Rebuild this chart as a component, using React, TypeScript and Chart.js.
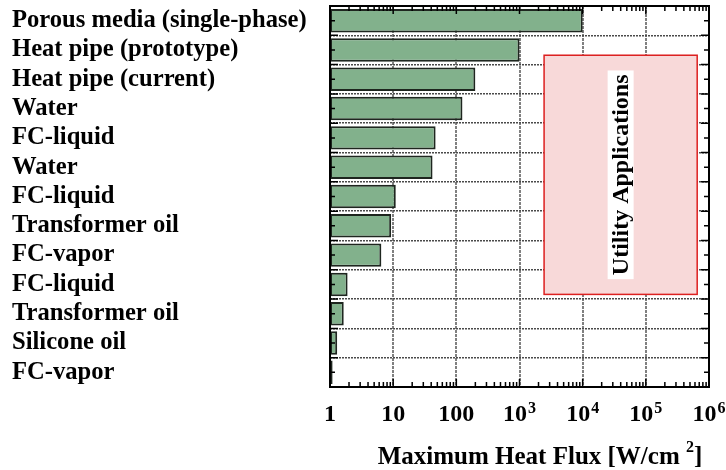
import React, { useEffect, useRef } from "react";
import { Chart, registerables } from "chart.js";

Chart.register(...registerables);

const categories = [
  "Porous media (single-phase)",
  "Heat pipe (prototype)",
  "Heat pipe (current)",
  "Water",
  "FC-liquid",
  "Water",
  "FC-liquid",
  "Transformer oil",
  "FC-vapor",
  "FC-liquid",
  "Transformer oil",
  "Silicone oil",
  "FC-vapor",
];
const heatFlux = [10000, 1000, 200, 125, 47, 42, 11, 9.3, 6.5, 1.9, 1.65, 1.3, 1.1];
const xTickValues = [1, 10, 100, 1e3, 1e4, 1e5, 1e6];
const xTickBase = ["1", "10", "100", "10", "10", "10", "10"];
const xTickExp = ["", "", "", "3", "4", "5", "6"];
const xTitleMain = "Maximum Heat Flux [W/cm ";
const xTitleSup = "2";
const xTitleEnd = "]";
const utilityXRange = [2450, 650000];
const utilityRowRange = [1.18, 9.34];
const utilityLabel = "Utility Applications";

const FONT = "'Liberation Serif', 'Times New Roman', serif";

const framePlugin = {
  id: "frame",
  beforeDatasetsDraw(chart: any) {
    const { ctx, scales } = chart;
    const x = scales.x;
    const y = scales.y;
    const x0 = x.getPixelForValue(utilityXRange[0]);
    const x1 = x.getPixelForValue(utilityXRange[1]);
    const y0 = y.getPixelForValue(utilityRowRange[0]);
    const y1 = y.getPixelForValue(utilityRowRange[1]);
    ctx.save();
    ctx.fillStyle = "#f8d9d9";
    ctx.fillRect(x0, y0, x1 - x0, y1 - y0);
    ctx.strokeStyle = "#dd2020";
    ctx.lineWidth = 1.5;
    ctx.strokeRect(x0, y0, x1 - x0, y1 - y0);
    const cx = (x0 + x1) / 2;
    const cy = (y0 + y1) / 2;
    ctx.translate(cx, cy);
    ctx.rotate(-Math.PI / 2);
    ctx.font = `bold 24px ${FONT}`;
    const w = ctx.measureText(utilityLabel).width;
    ctx.fillStyle = "#ffffff";
    ctx.fillRect(-w / 2 - 4, -13, w + 8, 26);
    ctx.fillStyle = "#000000";
    ctx.textAlign = "center";
    ctx.textBaseline = "middle";
    ctx.fillText(utilityLabel, 0, 1);
    ctx.restore();
  },
  afterDatasetsDraw(chart: any) {
    const { ctx, chartArea: a, scales } = chart;
    const x = scales.x;
    const y = scales.y;
    ctx.save();
    ctx.strokeStyle = "#000";
    ctx.lineWidth = 1.5;
    for (let d = 0; d < 6; d++) {
      for (let m = 1; m <= 9; m++) {
        const v = Math.pow(10, d) * m;
        const px = x.getPixelForValue(v);
        const len = m === 1 ? 8 : 5;
        ctx.beginPath();
        ctx.moveTo(px, a.bottom);
        ctx.lineTo(px, a.bottom - len);
        ctx.moveTo(px, a.top);
        ctx.lineTo(px, a.top + len);
        ctx.stroke();
      }
    }
    for (let i = 0; i < categories.length; i++) {
      const py = y.getPixelForValue(i);
      const pb = y.getPixelForValue(i + 0.5);
      ctx.beginPath();
      ctx.moveTo(a.left, py);
      ctx.lineTo(a.left + 5, py);
      ctx.moveTo(a.right, py);
      ctx.lineTo(a.right - 5, py);
      ctx.moveTo(a.left, pb);
      ctx.lineTo(a.left + 8, pb);
      ctx.moveTo(a.right, pb);
      ctx.lineTo(a.right - 8, pb);
      ctx.stroke();
    }
    ctx.lineWidth = 2;
    ctx.strokeRect(a.left, a.top, a.right - a.left, a.bottom - a.top);

    // x tick labels with superscripts
    ctx.fillStyle = "#000";
    ctx.textBaseline = "alphabetic";
    ctx.textAlign = "left";
    const baseFont = `bold 24px ${FONT}`;
    const supFont = `bold 16px ${FONT}`;
    const tickBaseline = a.bottom + 34;
    xTickValues.forEach((v, i) => {
      const px = x.getPixelForValue(v);
      ctx.font = baseFont;
      const wb = ctx.measureText(xTickBase[i]).width;
      ctx.font = supFont;
      const we = xTickExp[i] ? ctx.measureText(xTickExp[i]).width + 1 : 0;
      const start = px - (wb + we) / 2;
      ctx.font = baseFont;
      ctx.fillText(xTickBase[i], start, tickBaseline);
      if (xTickExp[i]) {
        ctx.font = supFont;
        ctx.fillText(xTickExp[i], start + wb + 1, tickBaseline - 8);
      }
    });

    // title
    const titleFont = `bold 25px ${FONT}`;
    ctx.font = titleFont;
    const w1 = ctx.measureText(xTitleMain).width;
    const w3 = ctx.measureText(xTitleEnd).width;
    ctx.font = supFont;
    const w2 = ctx.measureText(xTitleSup).width;
    const total = w1 + w2 + w3;
    const tStart = 540 - total / 2;
    const tBase = a.bottom + 77;
    ctx.font = titleFont;
    ctx.fillText(xTitleMain, tStart, tBase);
    ctx.font = supFont;
    ctx.fillText(xTitleSup, tStart + w1, tBase - 12);
    ctx.font = titleFont;
    ctx.fillText(xTitleEnd, tStart + w1 + w2, tBase);
    ctx.restore();
  },
};

export default function App() {
  const ref = useRef<HTMLCanvasElement>(null);
  useEffect(() => {
    if (!ref.current) return;
    const chart = new Chart(ref.current, {
      type: "bar",
      data: {
        labels: categories,
        datasets: [
          {
            data: heatFlux,
            backgroundColor: "#82b18c",
            borderColor: "#1e261f",
            borderWidth: 2,
            borderSkipped: false,
            barPercentage: 0.8,
            categoryPercentage: 1,
          },
        ],
      },
      options: {
        indexAxis: "y",
        responsive: false,
        animation: false,
        layout: { padding: { left: 12, top: 6, right: 17, bottom: 0 } },
        plugins: { legend: { display: false }, tooltip: { enabled: false } },
        scales: {
          x: {
            type: "logarithmic",
            min: 1,
            max: 1e6,
            afterBuildTicks: (s: any) => {
              s.ticks = xTickValues.map((v) => ({ value: v }));
            },
            afterFit: (s: any) => {
              s.height = 83;
              s.paddingLeft = 0;
              s.paddingRight = 0;
            },
            ticks: { display: false },
            grid: {
              color: "#808080",
              lineWidth: 2,
              drawTicks: false,
            },
            border: { display: false, dash: [3, 1] },
          },
          y: {
            type: "category",
            offset: true,
            afterFit: (s: any) => {
              s.width = 318;
              s.paddingTop = 0;
              s.paddingBottom = 0;
            },
            ticks: {
              crossAlign: "far",
              color: "#000",
              autoSkip: false,
              font: { family: FONT, size: 24.6, weight: "bold" },
            },
            grid: {
              offset: true,
              color: "#4a4a4a",
              lineWidth: 1.5,
              drawTicks: false,
            },
            border: { display: false, dash: [2, 1] },
          },
        },
      } as any,
      plugins: [framePlugin],
    });
    return () => chart.destroy();
  }, []);
  return (
    <div style={{ position: "absolute", left: 0, top: 0, width: 726, height: 470, background: "#fff" }}>
      <canvas ref={ref} width={726} height={470} style={{ display: "block" }} />
    </div>
  );
}
